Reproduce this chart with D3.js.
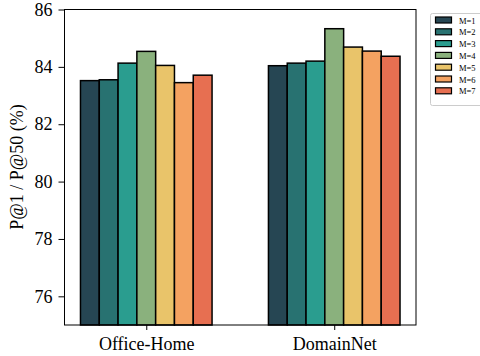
<!DOCTYPE html>
<html>
<head>
<meta charset="utf-8">
<script src="https://cdn.jsdelivr.net/npm/d3@7"></script>
<style>
  body { margin: 0; background: #fff; }
  svg text { font-family: "Liberation Serif", "Times New Roman", serif; fill: #000; }
</style>
</head>
<body>
<div id="chart"></div>
<script>
// data
var datasets = ['Office-Home', 'DomainNet'];
var seriesNames = ['M=1', 'M=2', 'M=3', 'M=4', 'M=5', 'M=6', 'M=7'];
var officeHome = [83.52, 83.55, 84.13, 84.54, 84.05, 83.45, 83.71];
var domainNet = [84.04, 84.13, 84.20, 85.33, 84.69, 84.55, 84.37];
var yTicks = [76, 78, 80, 82, 84, 86];
var colors = ['#264653', '#287271', '#2a9d8f', '#8ab17d', '#e9c46a', '#f4a261', '#e76f51'];

var values = [officeHome, domainNet];

var width = 480, height = 356;
var margin = {left: 64.5, right: 64, top: 9.5, bottom: 31};

var svg = d3.select('#chart').append('svg')
    .attr('width', width)
    .attr('height', height);

// x in group units, like matplotlib bar positions
var barW = 0.1;
var x = d3.scaleLinear().domain([-0.435, 1.435]).range([margin.left, width - margin.right]);
var y = d3.scaleLinear().domain([75, 86]).range([height - margin.bottom, margin.top]);

var g = svg.append('g');

datasets.forEach(function(ds, gi) {
  g.selectAll('rect.g' + gi)
    .data(values[gi])
    .enter().append('rect')
    .attr('class', 'g' + gi)
    .attr('x', function(d, i) { return x(gi + (i - 3.5) * barW); })
    .attr('width', function() { return x(barW) - x(0); })
    .attr('y', function(d) { return y(d); })
    .attr('height', function(d) { return y(75) - y(d); })
    .attr('fill', function(d, i) { return colors[i]; })
    .attr('stroke', '#000')
    .attr('stroke-width', 1.5);
});

// frame
svg.append('rect')
  .attr('x', x.range()[0]).attr('y', y.range()[1])
  .attr('width', x.range()[1] - x.range()[0])
  .attr('height', y.range()[0] - y.range()[1])
  .attr('fill', 'none').attr('stroke', '#000').attr('stroke-width', 1);

// axes
var yAxis = svg.append('g')
  .attr('transform', 'translate(' + margin.left + ',0)')
  .call(d3.axisLeft(y).tickValues(yTicks).tickSize(6).tickPadding(6));
yAxis.select('.domain').remove();
yAxis.selectAll('text').style('font-size', '18px');

var xAxis = svg.append('g')
  .attr('transform', 'translate(0,' + (height - margin.bottom) + ')')
  .call(d3.axisBottom(x).tickValues([0, 1]).tickFormat(function(d) { return datasets[d]; }).tickSize(5).tickPadding(7));
xAxis.select('.domain').remove();
xAxis.selectAll('text').style('font-size', '18px');

svg.append('text')
  .attr('transform', 'translate(23,' + 167 + ') rotate(-90)')
  .attr('text-anchor', 'middle')
  .style('font-size', '18px')
  .text('P@1 / P@50 (%)');

// legend
var lg = svg.append('g').attr('transform', 'translate(430.5,13.5)');
lg.append('rect')
  .attr('x', 0).attr('y', 0).attr('width', 60).attr('height', 92)
  .attr('rx', 2)
  .attr('fill', '#fff').attr('stroke', '#ccc').attr('stroke-width', 1);
var items = lg.selectAll('g.item').data(seriesNames).enter().append('g')
  .attr('transform', function(d, i) { return 'translate(5,' + (3.5 + i * 11.8) + ')'; });
items.append('rect')
  .attr('width', 16).attr('height', 6)
  .attr('fill', function(d, i) { return colors[i]; })
  .attr('stroke', '#000').attr('stroke-width', 1.2);
items.append('text')
  .attr('x', 23.5).attr('y', 6.5)
  .style('font-size', '8.5px')
  .text(function(d) { return d; });
</script>
</body>
</html>
